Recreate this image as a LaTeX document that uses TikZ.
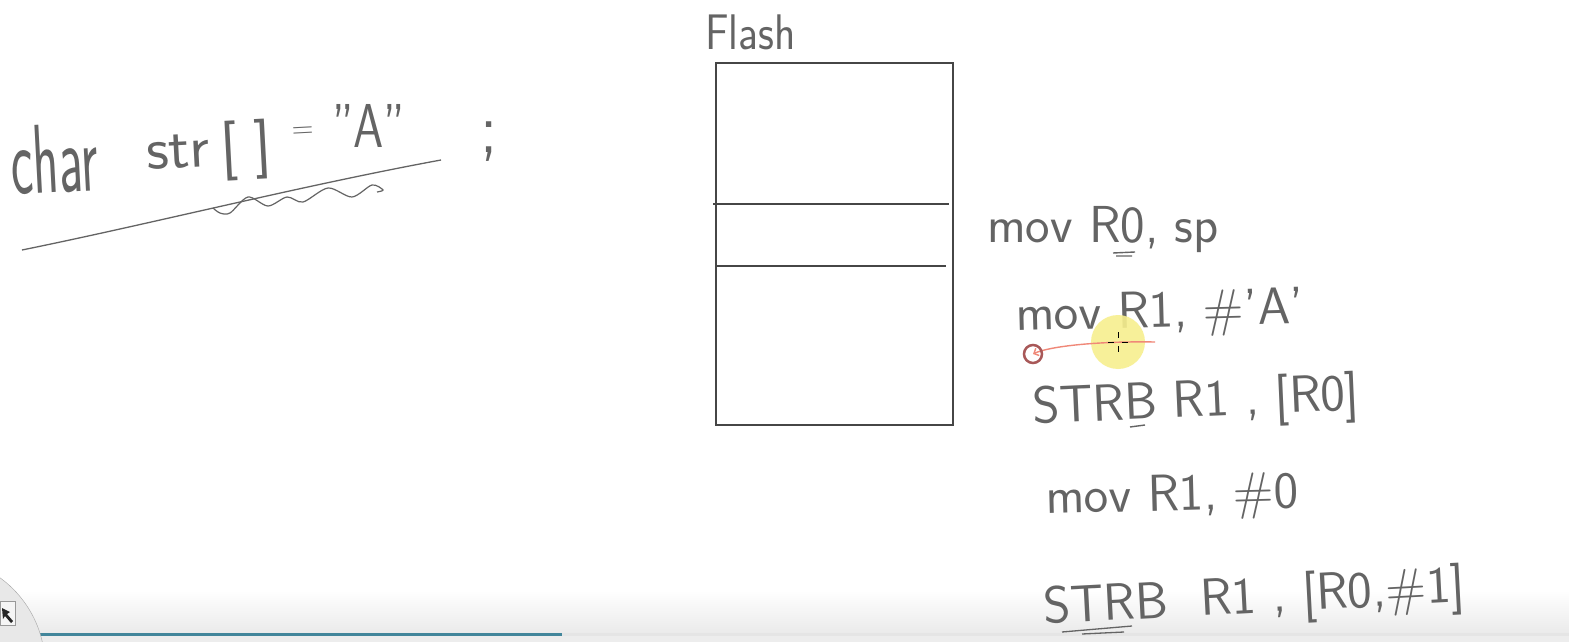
\documentclass[tikz,border=0pt]{standalone}
\usepackage{fontspec}
\usepackage{tikz}
\usetikzlibrary{arrows.meta}
\definecolor{pen}{HTML}{646464}
\definecolor{boxline}{HTML}{464646}
\definecolor{laser}{HTML}{F08878}
\definecolor{ring}{HTML}{A85858}
\definecolor{glow}{HTML}{F7EF8E}
\definecolor{seekbar}{HTML}{42869B}
\newcommand{\ink}[3]{\scalebox{#1}[#2]{#3}}
\tikzset{hand/.style={text=pen,inner sep=0pt,anchor=base west,font=\sffamily\fontsize{#1}{#1}\selectfont}}

\begin{document}
\begin{tikzpicture}[x=1pt,y=-1pt]
		\useasboundingbox (0,0) rectangle (1569,642);
		\fill[white] (0,0) rectangle (1569,642);
		%player bar at the bottom
		\shade[top color=white,bottom color=black!8] (0,590) rectangle (1569,633);
		\fill[black!10] (0,633) rectangle (1569,636);
		\fill[seekbar] (0,633) rectangle (562,636);
		\fill[black!7] (0,636) rectangle (1569,642);
		\begin{scope}
			\clip (0,0) rectangle (1569,642);
			\draw[black!35,fill=black!9] (-64,666) circle[radius=109];
		\end{scope}
		\draw[black!40,fill=black!4] (0,601) rectangle (15,625);
		\fill[black!85] (2,608) -- (10,612) -- (7,614) -- (13,621) -- (11,623) -- (5,616) -- (3,619) -- cycle;
		%char str[] = "A" ;
		\node[hand=56,rotate=3] (char) at (12,195) {\ink{0.95}{1.75}{char}};
		\node[hand=48,rotate=3] (str) at (147,170) {\ink{1.3}{1.25}{str\,[\;]}};
		\node[hand=30,rotate=3] (eq) at (292,139) {=};
		\node[hand=62] (chrA) at (332,147) {\ink{0.78}{1}{"A"}};
		\node[hand=55] (semi) at (480,152) {\ink{1.2}{1.3}{;}};
		\draw[pen,line width=1.3pt] (22,250) .. controls (150,224) and (300,186) .. (441,160);
		\draw[pen,line width=1.2pt] plot[smooth] coordinates {(213,208) (220,213) (230,213) (248,197) (268,206) (287,197) (303,202) (328,188) (352,197) (372,185) (383,190) (377,192)};
		%Flash
		\node[hand=50] (flash) at (705,50) {\ink{0.88}{1}{Flash}};
		\draw[boxline,line width=1.3pt] (716,63) rectangle (953,425);
		\draw[boxline,line width=1.1pt] (713,204) -- (949,204);
		\draw[boxline,line width=1.1pt] (717,266) -- (946,266);
		%code
		\node[hand=52] (mov0) at (987,242) {mov R0, sp};
		\node[hand=52,rotate=1.5] (mov1) at (1016,331) {mov R1, \#'A'};
		\node[hand=52,rotate=2.5] (strb0) at (1033,424) {STRB R1 , [R0]};
		\node[hand=52,rotate=1.5] (mov2) at (1046,514) {mov R1, \#0};
		\node[hand=52,rotate=3] (strb1) at (1044,624) {STRB\ \ R1 , [R0,\#1]};
		\draw[pen,line width=1.4pt] (1113,253) -- (1135,252) (1116,256) -- (1132,256);
		\draw[pen,line width=1.4pt] (1130,427) -- (1145,425);
		\draw[pen,line width=1.3pt] (1062,632) -- (1132,626) (1082,634) -- (1124,632);
		%pointer
		\fill[glow,opacity=0.9] (1118,342) circle[radius=27];
		\coordinate (tail) at (1155,342);
		\coordinate (ringc) at (1033,354);
		\draw[laser,line width=1.4pt,-{Straight Barb[length=4pt]}] (tail) .. controls (1100,341) and (1050,346) .. (ringc);
		\draw[ring,line width=2.5pt] (ringc) circle[radius=9];
		\draw[black,line width=0.9pt] (1108,342) -- (1114,342) (1122,342) -- (1128,342) (1118,332) -- (1118,338) (1118,346) -- (1118,352);
\end{tikzpicture}
\end{document}
